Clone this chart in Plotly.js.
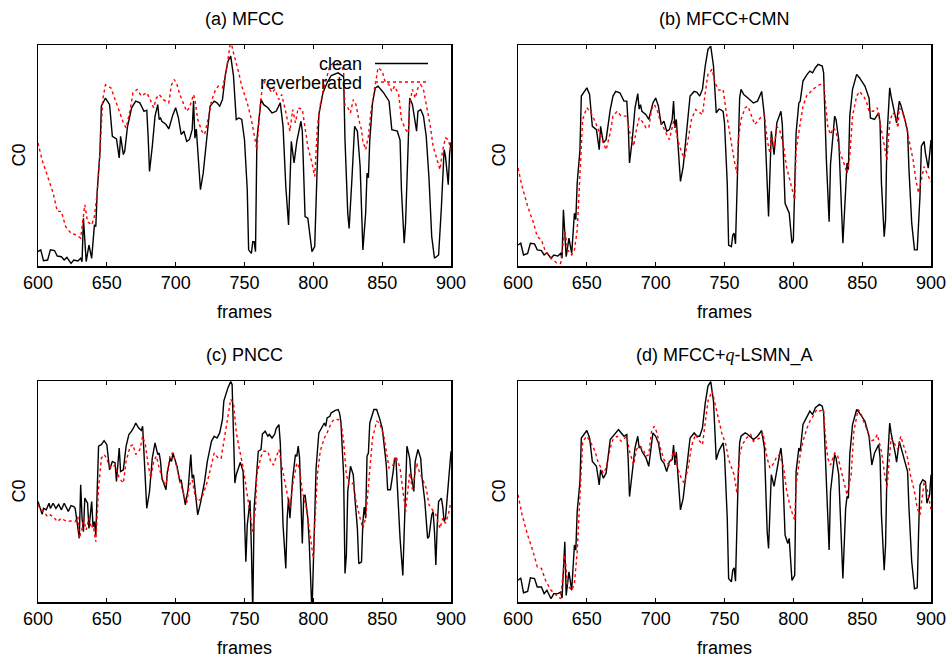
<!DOCTYPE html>
<html><head><meta charset="utf-8">
<script src="https://cdn.plot.ly/plotly-3.0.1.min.js"></script>
<style>html,body{margin:0;padding:0;background:#fff}#chart{width:950px;height:660px}</style>
</head><body><div id="chart"></div>
<script>
// [frame, C0 value (relative units)]
const cleanA = [[600,6.5],[602,7.3],[604,2.4],[607,2.7],[609,7.3],[612,7],[614,4.5],[617,4.2],[619,2.7],[621,3.9],[624,1.2],[626,2.7],[629,2.3],[631,3.5],[632,1.9],[633,21.6],[635,2],[637,9.5],[639,3.5],[641,18.6],[642,17.9],[643,33.7],[645,51.4],[646,72.3],[649,76],[652,73],[654,58.7],[657,57.5],[659,48.9],[660,58.7],[662,50.4],[663,52],[665,63],[668,71.6],[671,74.6],[674,73.8],[677,70],[679,70.5],[680,58.7],[681,42.8],[683,54],[685,67.8],[687,73],[688,66.3],[689,67],[690,65.5],[693,64],[695,62],[698,68.5],[700,71.6],[702,67],[704,59.5],[706,61],[708,56.4],[710,57.2],[712,61.7],[713,74.6],[714,57.8],[715,62],[716,52.6],[718,34.5],[720,42],[723,60],[725,72.3],[728,74.6],[730,73.8],[732,72.3],[734,75.3],[736,86],[738,92.7],[740,95],[742,86],[744,66.3],[746,67],[748,66.3],[750,57],[752,34.5],[753,7.3],[755,5.7],[756,11],[757,11],[758,6.5],[759,57],[761,70.8],[762,75.3],[764,73],[767,71.6],[770,69.3],[773,70],[776,73.8],[778,63.2],[780,36],[782,18.6],[784,56.4],[786,46.6],[788,56.4],[790,63.2],[791,65.5],[792,61],[794,22.4],[796,21.6],[798,11.8],[799,6.5],[801,8.8],[803,57],[804,68.5],[807,78.4],[810,82.9],[813,86.2],[818,87.4],[822,85.7],[823,57],[825,23.9],[826,17],[828,39],[830,63.2],[832,61],[834,45],[836,7.3],[838,23.9],[839,42],[840,39.9],[841,57],[843,73.8],[845,80.6],[847,81.4],[851,78.4],[855,74.6],[857,61.7],[861,61],[863,57],[864,34.5],[866,10.3],[867,19.4],[869,57],[870,76],[872,73],[875,61],[876,70],[878,70.8],[880,67.8],[882,58.7],[884,39.9],[886,13.3],[888,3.5],[891,5],[893,26.3],[895,52.6],[896,49.6],[898,36.8],[899,51],[900,56]];
const revA = [[600,55.7],[603,48],[607,40.5],[611,33],[614,24.7],[617,24.7],[620,17.9],[624,14.8],[628,14],[631,12.6],[634,27.7],[636,20],[639,18.6],[641,22.4],[643,33],[645,51],[647,75.3],[649,82],[653,80.6],[656,75.3],[658,72.3],[662,64.8],[664,62.5],[667,70.8],[669,78.4],[672,79.9],[675,76.9],[679,78.4],[681,76],[684,71.6],[686,76],[688,77.6],[691,75.3],[693,74.6],[695,73.8],[697,82],[699,84.4],[701,82],[703,77.6],[706,73],[708,70],[710,71.6],[713,77.6],[714,75.3],[716,66.3],[719,61],[721,59.5],[724,67.8],[726,74.6],[729,79.9],[731,81.4],[734,80.6],[736,86],[738,93.5],[740,102],[742,96.5],[744,92],[746,87],[748,81.4],[752,73.8],[755,66.3],[757,60.2],[759,52.6],[761,70],[763,81.4],[765,83.7],[767,81],[770,78.4],[772,79.9],[775,75.3],[777,77.6],[779,72.3],[781,66.3],[783,61],[785,70.8],[787,64.8],[789,71.6],[792,70.8],[794,62.5],[796,54],[799,46.6],[801,40.5],[803,63.2],[805,73],[807,79],[810,86],[812,90.5],[815,92],[817,91.2],[819,92.7],[822,88.2],[823,72.3],[825,71.6],[827,69.3],[829,75.3],[831,73],[833,66.3],[835,61.7],[836,56.4],[838,52.6],[840,58.7],[842,70.8],[845,82.9],[847,89.7],[850,88.2],[852,83.7],[855,82],[857,79],[859,81.4],[862,77.6],[864,66.3],[867,61.7],[869,60.2],[870,73.8],[872,79.9],[874,76],[876,80.6],[878,82],[880,79.9],[882,73],[885,63.2],[887,54.2],[890,48],[892,43.6],[894,52.6],[896,58],[898,57.2],[900,52.6]];
const cleanB = [[600,9.5],[602,10.3],[604,5],[607,5.7],[609,10.3],[612,10],[614,7.3],[617,7],[619,5],[621,6],[624,3.5],[626,5],[629,4.5],[631,5.7],[632,3.5],[633,25.4],[635,4.2],[637,12.6],[639,5.7],[641,23.9],[642,21],[643,37.5],[645,52.6],[646,76.9],[650,80.6],[652,77.6],[654,63.2],[657,61.7],[659,52.6],[660,63.2],[662,55.7],[664,57.2],[667,70.8],[669,76.9],[671,79],[674,78.4],[677,74.6],[679,74.6],[680,64.8],[681,46.6],[683,57.2],[685,71.6],[687,78],[688,71],[689,73],[690,70],[693,68.5],[695,66.3],[698,73.8],[700,76],[702,72.3],[704,64],[706,65.5],[708,61],[710,61.7],[712,66.3],[713,74.6],[714,62.5],[715,66.3],[716,57.2],[718,38.3],[720,45],[723,64.8],[725,76.9],[728,79],[730,78.6],[732,76.9],[734,80],[736,90.5],[738,98],[740,99.5],[742,90.5],[744,69.3],[746,71],[747,70.8],[749,70],[750,64.8],[752,37.5],[753,9.5],[755,8.8],[756,14],[757,14.8],[758,10],[760,57],[761,76],[762,79.9],[764,77.6],[767,76],[771,73.8],[774,74.6],[777,79],[779,67.8],[781,37.5],[782,22.4],[784,61],[786,50.4],[788,64.8],[790,67.8],[791,70],[792,64],[794,28.4],[796,25.4],[797,24],[799,10.3],[800,11.8],[802,60.2],[804,73.8],[805,74.6],[807,83.7],[810,86.7],[812,88.2],[814,87.4],[816,89.7],[818,91.2],[821,90.5],[822,87.4],[824,48],[826,20],[827,46],[830,67.8],[831,66.3],[833,57],[836,10.3],[838,34.5],[839,46.6],[840,43.6],[841,67.8],[843,79.9],[846,86.7],[848,85.2],[852,81.4],[855,76],[856,67],[859,66.3],[862,69.3],[863,64.8],[864,37.5],[866,13.3],[867,20.9],[868,58],[870,80.6],[871,76.9],[874,67],[875,64.8],[877,74.6],[878,73],[881,66.3],[883,61],[884,43.6],[886,19.4],[888,7.3],[890,7.3],[892,31.8],[893,54.2],[895,56.4],[896,51],[898,44.3],[899,52.6],[900,57]];
const revB = [[600,44.3],[603,36],[607,27],[611,20],[614,13.3],[617,11.8],[620,6.5],[624,3.5],[628,1.5],[631,1.2],[634,16.3],[636,7.3],[639,5],[641,7.3],[643,16.3],[645,45],[647,66.3],[650,71.6],[653,69.3],[656,65.5],[658,62.5],[662,55.7],[664,52.6],[667,60.2],[669,67.8],[672,70],[675,67.8],[679,67.8],[681,61],[684,54.2],[686,61.7],[688,67],[691,64.8],[693,62.5],[695,62.5],[697,70.8],[699,73],[701,70.8],[703,66.3],[706,61.7],[708,59.5],[710,57.2],[713,65.5],[714,63.2],[716,57.2],[719,51],[721,48.9],[724,58.7],[726,66.3],[729,70.8],[731,70],[734,68.5],[736,78.4],[738,86.7],[741,89],[743,83],[746,79.5],[749,79.9],[751,70.8],[754,58.7],[757,48],[759,42],[760,57.2],[762,66.3],[765,71.6],[767,72.3],[770,67.8],[772,64],[776,67],[779,68.5],[781,57.2],[783,51],[784,58.7],[786,53.5],[788,63.2],[790,61.7],[793,54],[795,45],[798,37.5],[801,30],[802,52.6],[805,64.8],[807,72.3],[810,77.6],[812,78.4],[814,79.9],[817,81.4],[819,82],[822,83],[823,75.3],[825,63.2],[827,59.5],[829,62.5],[831,61],[834,51],[836,48],[839,42],[841,49.6],[843,67.8],[846,76.9],[848,79],[851,76.9],[853,74.6],[855,70],[858,70],[861,71.6],[863,64.8],[866,55.7],[868,48],[870,64.8],[872,69.3],[874,68.5],[876,62.5],[877,71.6],[880,68.5],[882,63.2],[884,57.2],[887,48],[889,39],[891,33],[893,39],[895,45],[897,42],[899,39],[900,38]];
const cleanC = [[600,45.5],[601,43.2],[603,39.7],[604,42.4],[606,41.7],[608,44.7],[609,42.4],[611,44.7],[613,42.4],[615,44.2],[617,41.7],[619,44.7],[620,43.2],[622,41],[624,43.6],[626,43.2],[627,42.4],[628,37.9],[630,28.8],[631,53],[632,37.9],[633,31.8],[634,47],[636,44.7],[637,33.3],[639,45.5],[640,34],[641,36.4],[642,30.3],[644,70.5],[646,71.2],[648,73],[650,71.2],[652,59.8],[654,63.6],[656,62.9],[657,54.5],[659,69.7],[660,59],[662,59.8],[664,70.5],[666,75.8],[668,77.3],[670,79.5],[671,81],[673,78.8],[675,77.6],[676,79.5],[677,68.2],[679,42.4],[681,50],[683,65],[685,72],[687,66.7],[688,67.4],[689,63.6],[690,56],[693,50.8],[694,59],[696,65],[697,63.6],[698,67.4],[701,61.4],[703,54.5],[704,55.3],[706,48.5],[707,44],[709,50.8],[710,59],[711,66.7],[712,56],[713,57.6],[716,39.4],[718,44.7],[721,54.5],[723,63.6],[726,72.7],[728,75],[730,74.2],[732,76.5],[734,82.6],[735,91],[738,97],[740,99.7],[741,98.5],[742,80],[743,53.8],[744,57.6],[746,62],[747,63.2],[749,59],[750,42.4],[751,18.2],[752,34.8],[754,46],[755,24.2],[756,-5],[757,42.4],[759,61.4],[760,68.2],[762,69],[763,76],[765,77.3],[767,75],[768,75.8],[770,74.2],[772,76],[773,78.5],[775,80.3],[776,72],[778,34.8],[780,15.2],[781,37.9],[782,47],[783,37.9],[785,56],[787,66.7],[788,65.9],[789,70.5],[790,65.2],[791,45.5],[792,26.5],[793,47.7],[794,48.5],[796,37.9],[797,27.3],[799,-5],[800,18.2],[801,45.5],[802,60.6],[804,76.5],[806,78.8],[808,81],[809,79.5],[810,83.3],[812,84],[813,85.6],[816,86.7],[818,87.1],[819,85.6],[820,81.8],[822,57.6],[823,12.9],[824,21.2],[825,50],[827,61.4],[829,57.6],[830,48.5],[832,33.3],[833,17.4],[835,18.2],[836,36.4],[837,43],[838,37.9],[839,66],[840,67.4],[841,81],[844,87.1],[846,87.1],[848,83.3],[850,78.8],[851,73.5],[853,62],[854,50.8],[856,50.8],[858,59],[859,65],[860,65],[861,51.5],[863,28.8],[865,12],[866,34.8],[868,70.5],[870,65],[871,57.6],[873,50],[874,63.6],[876,69],[878,65],[879,56],[881,45.5],[883,28.8],[884,29.5],[886,39.4],[887,40.9],[888,31.8],[889,16.7],[890,34.8],[891,45.5],[893,47],[894,43.2],[895,36.4],[896,37.9],[898,53],[900,68.2]];
const revC = [[600,44],[602,41.7],[604,40.9],[607,38.6],[609,39.4],[612,37.9],[614,36.4],[617,37.9],[619,37.1],[621,36.4],[624,36.7],[627,36.4],[629,38.6],[630,28.8],[632,33.3],[633,37.9],[635,32.6],[637,37.9],[639,33.3],[640,34.8],[642,27.3],[644,51.5],[646,65],[648,66.7],[650,65],[651,62.9],[653,60.6],[656,62],[658,57.6],[660,55.3],[662,53.8],[664,63.6],[667,70.5],[669,71.2],[671,66.7],[674,68.9],[676,75],[678,71.2],[680,62],[682,56],[684,63.6],[686,66],[688,60.6],[691,54.5],[693,53],[696,66.7],[698,67.4],[701,60.6],[703,54.5],[706,48.5],[708,44.7],[710,53],[712,55.3],[714,48.5],[716,45.5],[719,47],[723,54.5],[726,62],[728,67.4],[731,65],[733,65],[735,72.7],[738,83.3],[740,91.7],[742,90],[744,77],[746,70],[749,61],[752,48.5],[754,39.4],[756,31.8],[758,42.4],[759,57.6],[762,65.9],[764,68.2],[767,68.2],[769,63.6],[771,62],[773,65.9],[775,69],[777,62],[780,51.5],[781,47.7],[783,42.4],[785,53],[788,62.9],[790,60.6],[792,50],[795,42.4],[797,33.3],[800,19.7],[801,34.8],[803,57.6],[805,68.2],[808,74.2],[810,76.5],[813,81],[815,82.6],[818,82.6],[820,81.8],[822,72.7],[824,57.6],[826,53],[829,53.8],[831,45.5],[834,37.9],[836,33.3],[838,37.9],[841,57.6],[843,74.2],[846,81.8],[848,81.1],[851,75.8],[853,68.2],[855,60.6],[858,62],[860,66],[863,60.6],[865,50],[867,40.9],[870,58.3],[872,50.8],[875,62.9],[877,59],[880,54.5],[882,51.5],[884,44],[887,40.9],[889,39.4],[892,33.3],[894,37.9],[896,35.6],[898,39.4],[900,45.5]];
const cleanD = [[600,9.8],[602,10.9],[604,4.2],[607,4.8],[609,10.9],[612,10.6],[614,6.8],[617,6.8],[619,3.8],[621,5.3],[624,1.5],[626,3.8],[629,3.8],[631,4.5],[632,1.8],[634,27.3],[635,3],[637,13.6],[639,5.3],[641,25.8],[642,23.5],[643,41],[645,54.5],[646,74.2],[650,77.6],[652,74.2],[654,63.6],[657,61.4],[659,53],[660,59.8],[662,56],[664,58.3],[667,73.5],[669,75],[673,78],[675,76.5],[677,75],[679,75.8],[680,65.2],[681,47.7],[683,59],[685,69.7],[687,75],[688,69.7],[689,70.5],[690,68.2],[693,65.2],[695,61.4],[698,76.5],[700,75],[702,72],[704,64.4],[706,62.9],[708,59],[710,63.6],[712,64.4],[713,71],[714,62],[715,67.9],[716,59],[718,41.7],[720,47],[723,63.6],[725,74.2],[728,76.5],[730,75],[732,75],[734,78.8],[736,90],[738,97.7],[740,99.7],[742,90.9],[744,64.4],[746,68.5],[749,72],[750,66.7],[752,37.9],[753,10.6],[755,9.1],[756,14.4],[757,15.5],[758,9.4],[760,57.6],[761,72],[762,75],[765,76.5],[767,75.8],[771,73.5],[774,75],[777,77.6],[779,69.7],[781,31.8],[782,24.2],[784,57.6],[786,52.3],[788,60.6],[790,66.7],[791,69.7],[792,63.6],[794,30.3],[796,26.5],[797,28.8],[799,9.8],[801,12.1],[802,59],[804,69.7],[805,68.2],[807,80.3],[810,84],[812,86.4],[814,84.8],[816,87.9],[819,89.4],[821,88.6],[822,85.6],[824,50],[826,23.5],[827,50],[830,66.7],[831,65.2],[833,57.6],[836,10.6],[838,42.4],[839,47.7],[840,47],[841,66.7],[843,80.3],[846,87.1],[848,85.6],[852,81.8],[855,75],[857,62],[859,67.4],[862,71.2],[863,65.2],[864,39.4],[866,14.4],[867,25.8],[868,59],[870,81],[871,76.5],[874,67.4],[875,63.3],[877,72.7],[878,70.5],[881,63.6],[883,59],[884,42.4],[886,18.2],[888,6],[890,6.4],[891,31.8],[892,53],[894,55.3],[896,54.5],[897,44.7],[899,48.5],[900,57.6]];
const revD = [[600,48.5],[603,39.4],[607,30.3],[611,22.7],[614,15.9],[617,15.2],[620,9.8],[624,5.3],[628,3],[631,1.5],[634,21.2],[636,7.6],[639,5.3],[641,8.3],[643,22.7],[645,48.5],[647,72.7],[650,75],[653,72],[656,68.2],[658,63.6],[662,58.3],[664,60.6],[667,69.7],[669,73.5],[672,75],[675,72.7],[679,75],[681,68.2],[684,62],[686,69],[688,70.5],[691,69],[693,66],[695,66.7],[697,77.3],[699,79.5],[701,76.5],[703,70.5],[706,64.4],[708,62.9],[710,62],[713,68.2],[714,66.7],[716,60.6],[719,55.3],[721,53.8],[724,62],[726,70.5],[729,75.8],[731,73.5],[734,71.2],[736,81.8],[738,91],[741,95.5],[743,90],[746,83],[748,76.5],[751,71.2],[753,64.4],[757,57.6],[759,49.2],[761,66.7],[763,71.2],[766,74.2],[769,75.8],[771,72.7],[773,73.5],[776,74.2],[778,76.5],[781,65],[783,60.6],[786,62.9],[788,65.9],[790,66.7],[793,60.6],[795,50.8],[798,42.4],[801,37.1],[802,53],[805,66.7],[807,72.7],[810,78.8],[812,81.8],[815,84.8],[817,87.1],[819,86.4],[822,87.1],[823,77.3],[825,65],[827,62],[830,67.4],[832,66.7],[835,59],[837,53],[839,48.5],[842,57.6],[844,77.3],[847,87.1],[849,85.6],[851,81.8],[854,77.3],[856,72.7],[859,73.5],[861,75.8],[864,68.2],[866,59],[868,51.5],[871,74.2],[873,72],[876,69],[878,75],[880,70.5],[883,65],[885,57.6],[888,50],[890,42.4],[892,39.4],[894,49.2],[895,54.5],[897,51.5],[899,44.7],[900,42]];

const panelTitles = ['(a) MFCC', '(b) MFCC+CMN', '(c) PNCC', '(d) MFCC+<span style="font-family:\'Liberation Serif\'"><i>q</i></span>-LSMN_A'];
const tickFrames = [600, 650, 700, 750, 800, 850, 900];
const seriesNames = ['clean', 'reverberated'];

const FONT = 'Liberation Sans, Arial, Helvetica, sans-serif';
const FS = 18;
const W = 950, H = 660;
const boxes = [ // pixel boxes [x0, x1, yTop, yBottom]
  [38, 451, 45, 266], [518, 931, 45, 266],
  [38, 451, 381, 602], [518, 931, 381, 602]
];
const pairs = [[cleanA, revA], [cleanB, revB], [cleanC, revC], [cleanD, revD]];

const traces = [];
const layout = {
  width: W, height: H, margin: {l: 0, r: 0, t: 0, b: 0},
  paper_bgcolor: '#fff', plot_bgcolor: '#fff', showlegend: false,
  font: {family: FONT, size: FS, color: '#000'},
  annotations: [], shapes: []
};
boxes.forEach((b, i) => {
  const n = i === 0 ? '' : String(i + 1);
  layout['xaxis' + n] = {
    domain: [b[0] / W, b[1] / W], range: [600, 900], anchor: 'y' + n,
    tickvals: tickFrames, ticktext: tickFrames.map(String),
    ticks: 'inside', ticklen: 4, tickwidth: 1.2, tickcolor: '#000',
    showline: true, mirror: 'ticks', linecolor: '#000', linewidth: 1.5,
    showgrid: false, zeroline: false, tickfont: {size: FS, family: FONT}
  };
  layout['yaxis' + n] = {
    domain: [1 - b[3] / H, 1 - b[2] / H], range: [0, 100], anchor: 'x' + n,
    showticklabels: false, ticks: '', showline: true, mirror: true,
    linecolor: '#000', linewidth: 1.5, showgrid: false, zeroline: false
  };
  const [cl, rv] = pairs[i];
  traces.push({x: cl.map(p => p[0]), y: cl.map(p => p[1]), xaxis: 'x' + n, yaxis: 'y' + n,
    type: 'scatter', mode: 'lines', name: seriesNames[0], line: {color: '#000', width: 1.4}});
  traces.push({x: rv.map(p => p[0]), y: rv.map(p => p[1]), xaxis: 'x' + n, yaxis: 'y' + n,
    type: 'scatter', mode: 'lines', name: seriesNames[1], line: {color: '#ff0000', width: 1.4, dash: '3px,3px'}});
  const cx = (b[0] + b[1]) / 2;
  layout.annotations.push({text: panelTitles[i], xref: 'paper', yref: 'paper', x: cx / W, y: 1 - (b[2] - 26) / H,
    showarrow: false, xanchor: 'center', yanchor: 'middle', font: {size: FS}});
  layout.annotations.push({text: 'frames', xref: 'paper', yref: 'paper', x: cx / W, y: 1 - (b[3] + 46) / H,
    showarrow: false, xanchor: 'center', yanchor: 'middle', font: {size: FS}});
  layout.annotations.push({text: 'C0', xref: 'paper', yref: 'paper', x: (b[0] - 20) / W, y: 1 - ((b[2] + b[3]) / 2) / H,
    showarrow: false, xanchor: 'center', yanchor: 'middle', textangle: -90, font: {size: FS}});
});
// legend (gnuplot style: text left, sample right), drawn in panel (a)
layout.annotations.push({text: seriesNames[0], xref: 'paper', yref: 'paper', x: 364 / W, y: 1 - 64 / H,
  showarrow: false, xanchor: 'right', yanchor: 'middle', font: {size: FS}});
layout.annotations.push({text: seriesNames[1], xref: 'paper', yref: 'paper', x: 364 / W, y: 1 - 83 / H,
  showarrow: false, xanchor: 'right', yanchor: 'middle', font: {size: FS}});
layout.shapes.push({type: 'line', xref: 'paper', yref: 'paper', x0: 375 / W, x1: 428 / W, y0: 1 - 63.5 / H, y1: 1 - 63.5 / H,
  line: {color: '#000', width: 1.4}});
layout.shapes.push({type: 'line', xref: 'paper', yref: 'paper', x0: 375 / W, x1: 428 / W, y0: 1 - 82 / H, y1: 1 - 82 / H,
  line: {color: '#ff0000', width: 1.4, dash: '3px,3px'}});

Plotly.newPlot('chart', traces, layout, {staticPlot: true, displayModeBar: false});
</script></body></html>
